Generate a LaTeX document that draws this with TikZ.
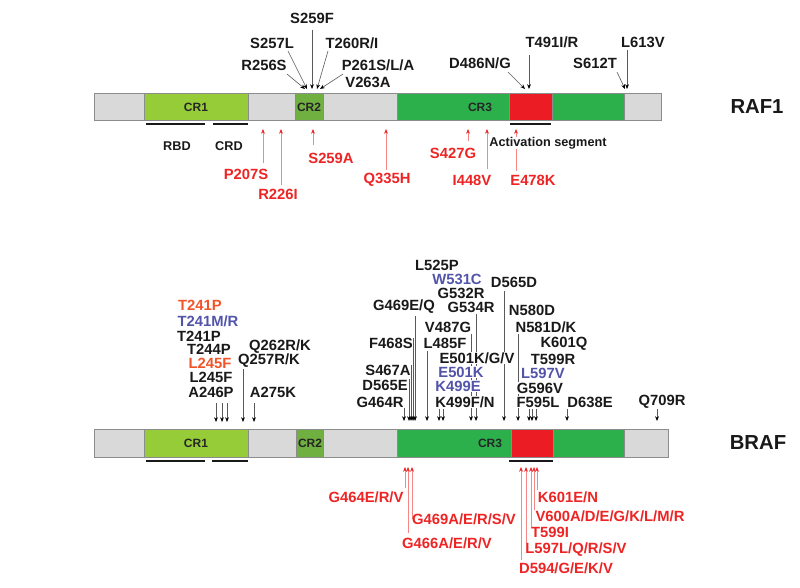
\documentclass[tikz,border=0pt]{standalone}
\usepackage{fontspec}
\setmainfont{Liberation Sans}
\usetikzlibrary{arrows.meta}
\definecolor{bargray}{RGB}{217,217,217}
\definecolor{crone}{RGB}{150,204,56}
\definecolor{crtwo}{RGB}{112,176,64}
\definecolor{crthree}{RGB}{44,176,76}
\definecolor{actred}{RGB}{236,28,36}
\definecolor{mutred}{RGB}{238,36,36}
\definecolor{mutorange}{RGB}{240,84,40}
\definecolor{mutblue}{RGB}{82,84,170}
\newcommand\pin[4]{\coordinate (#1s) at (#3); \coordinate (#1e) at (#4); \draw[#2] (#1s) -- (#1e);}
\tikzset{
  lab/.style={font=\fontsize{14.8}{16}\selectfont\bfseries, inner sep=0.5pt},
  blk/.style={lab, text=black!90},
  redlab/.style={lab, text=mutred},
  orlab/.style={lab, text=mutorange},
  bllab/.style={lab, text=mutblue},
  wf/.style={fill=white},
  small/.style={font=\fontsize{12.7}{14}\selectfont\bfseries, inner sep=0.5pt, text=black!90},
  crlab/.style={font=\fontsize{12}{14}\selectfont\bfseries, inner sep=0pt, text=black!85},
  prot/.style={font=\fontsize{20.3}{22}\selectfont\bfseries, inner sep=0pt, text=black!90},
  seg/.style={draw=black!45, line width=0.6pt},
  uline/.style={line width=2.2pt, black!90},
  blkarr/.style={draw=black!65, line width=0.6pt, -{Stealth[length=4.8pt,width=3.8pt,color=black]}},
  redarr/.style={draw=mutred!55, line width=0.6pt, -{Stealth[length=4.8pt,width=3.8pt,color=mutred]}},
}
\begin{document}
\begin{tikzpicture}[x=1pt,y=-1pt]
\useasboundingbox (0,0) rectangle (800,588);

% ---------------- RAF1 bar ----------------
\fill[bargray] (94,93) rectangle (661,120);
\draw[seg, fill=crone] (144,93) rectangle (248,120);
\draw[seg, fill=crtwo] (295,93) rectangle (323,120);
\draw[seg, fill=crthree] (397,93) rectangle (509,120);
\draw[seg, fill=actred] (509,93) rectangle (552,120);
\draw[seg, fill=crthree] (552,93) rectangle (624,120);
\draw[seg] (94,93) rectangle (661,120);
\node[crlab] (rcr1) at (196,107) {CR1};
\node[crlab] (rcr2) at (309,107) {CR2};
\node[crlab] (rcr3) at (480,107) {CR3};
\node[prot] (raf1) at (757,107) {RAF1};
\draw[uline] (146,124) -- (205,124);
\draw[uline] (213,124) -- (248,124);
\draw[uline] (510,124) -- (551,124);
\node[small] (rbd1) at (177,146) {RBD};
\node[small] (crd1) at (229,146) {CRD};

% RAF1 black mutations
\pin{a1}{blkarr}{312,30}{312,89}
\pin{a2}{blkarr}{288,51}{307,89}
\pin{a3}{blkarr}{328,51}{317,89}
\pin{a4}{blkarr}{287,74}{305,89}
\pin{a5}{blkarr}{343,74}{320,89}
\pin{a6}{blkarr}{529,55}{529,89}
\pin{a7}{blkarr}{508,72}{525,89}
\pin{a8}{blkarr}{627,50}{627,89}
\pin{a9}{blkarr}{617,72}{625,89}
\node[blk] (m1) at (312,18) {S259F};
\node[blk] (m2) at (272,43) {S257L};
\node[blk] (m3) at (352,43) {T260R/I};
\node[blk] (m4) at (264,65) {R256S};
\node[blk] (m5) at (378,65) {P261S/L/A};
\node[blk] (m6) at (368,82) {V263A};
\node[blk] (m7) at (552,42) {T491I/R};
\node[blk] (m8) at (480,63) {D486N/G};
\node[blk] (m9) at (643,42) {L613V};
\node[blk] (m10) at (595,63) {S612T};

% RAF1 red mutations
\pin{r1}{redarr}{263,163}{263,129}
\pin{r2}{redarr}{281,185}{281,129}
\pin{r3}{redarr}{313,145}{313,129}
\pin{r4}{redarr}{386,170}{386,129}
\pin{r5}{redarr}{468,141}{468,129}
\pin{r6}{redarr}{487,169}{487,129}
\pin{r7}{redarr}{516,171}{516,129}
\node[small, wf] (actseg) at (548,143) {Activation segment};
\node[redlab] (n1) at (246,174) {P207S};
\node[redlab] (n2) at (278,194) {R226I};
\node[redlab] (n3) at (331,158) {S259A};
\node[redlab] (n4) at (387,180) {Q335H};
\node[redlab] (n5) at (453,153) {S427G};
\node[redlab] (n6) at (472,180) {I448V};
\node[redlab] (n7) at (533,180) {E478K};

% ---------------- BRAF bar ----------------
\fill[bargray] (94,429) rectangle (668,457);
\draw[seg, fill=crone] (144,429) rectangle (248,457);
\draw[seg, fill=crtwo] (296,429) rectangle (323,457);
\draw[seg, fill=crthree] (397,429) rectangle (511,457);
\draw[seg, fill=actred] (511,429) rectangle (553,457);
\draw[seg, fill=crthree] (553,429) rectangle (624,457);
\draw[seg] (94,429) rectangle (668,457);
\node[crlab] (bcr1) at (196,443) {CR1};
\node[crlab] (bcr2) at (310,443) {CR2};
\node[crlab] (bcr3) at (490,443) {CR3};
\node[prot] (braf) at (758,443) {BRAF};
\draw[uline] (146,461) -- (205,461);
\draw[uline] (212,461) -- (248,461);
\draw[uline] (509,461) -- (553,461);

% BRAF black arrows
\pin{b1}{blkarr}{216,403}{216,422}
\pin{b2}{blkarr}{222,403}{222,422}
\pin{b3}{blkarr}{227,403}{227,422}
\pin{b4}{blkarr}{243,369}{243,422}
\pin{b5}{blkarr}{254,403}{254,422}
\pin{b6}{blkarr}{404,408}{404,421}
\pin{b7}{blkarr}{409,379}{409,421}
\pin{b8}{blkarr}{411,365}{411,421}
\pin{b9}{blkarr}{413,338}{413,421}
\pin{b10}{blkarr}{415,316}{415,421}
\pin{b11}{blkarr}{427,351}{427,421}
\pin{b12}{blkarr}{439,409}{439,421}
\pin{b13}{blkarr}{443,409}{443,421}
\pin{b14}{blkarr}{471,334}{471,421}
\pin{b15}{blkarr}{476,314}{476,421}
\pin{b16}{blkarr}{504,291}{504,421}
\pin{b17}{blkarr}{518,334}{518,421}
\pin{b18}{blkarr}{529,409}{529,421}
\pin{b19}{blkarr}{532,409}{532,421}
\pin{b20}{blkarr}{536,409}{536,421}
\pin{b21}{blkarr}{567,409}{567,421}
\pin{b22}{blkarr}{657,409}{657,421}

% BRAF left labels
\node[orlab] (k1) at (200,305) {T241P};
\node[bllab] (k2) at (208,321) {T241M/R};
\node[blk] (k3) at (199,336) {T241P};
\node[blk] (k4) at (209,349) {T244P};
\node[orlab] (k5) at (210,363) {L245F};
\node[blk] (k6) at (211,377) {L245F};
\node[blk] (k7) at (211,392) {A246P};
\node[blk] (k8) at (280,347) {Q262R/K};
\node[blk] (k9) at (269,361) {Q257R/K};
\node[blk] (k10) at (273,392) {A275K};

% BRAF centre labels
\node[blk] (c1) at (437,265) {L525P};
\node[bllab] (c2) at (457,279) {W531C};
\node[blk] (c3) at (514,282) {D565D};
\node[blk] (c4) at (461,293) {G532R};
\node[blk] (c5) at (404,307) {G469E/Q};
\node[blk] (c6) at (471,307) {G534R};
\node[blk] (c7) at (532,310) {N580D};
\node[blk] (c8) at (546,327) {N581D/K};
\node[blk] (c9) at (448,327) {V487G};
\node[blk] (c10) at (391,343) {F468S};
\node[blk] (c11) at (445,343) {L485F};
\node[blk] (c12) at (564,344) {K601Q};
\node[blk, wf] (c13) at (477,358) {E501K/G/V};
\node[blk] (c14) at (553,359) {T599R};
\node[blk] (c15) at (388,370) {S467A};
\node[bllab, wf] (c16) at (461,372) {E501K};
\node[bllab, wf] (c17) at (543,373) {L597V};
\node[blk] (c18) at (385,385) {D565E};
\node[bllab, wf] (c19) at (458,386) {K499E};
\node[blk, wf] (c20) at (540,388) {G596V};
\node[blk] (c21) at (380,402) {G464R};
\node[blk, wf] (c22) at (465,402) {K499F/N};
\node[blk, wf] (c23) at (538,402) {F595L};
\node[blk] (c24) at (590,402) {D638E};
\node[blk] (c25) at (662,402) {Q709R};

% BRAF red mutations
\pin{s1}{redarr}{405,488}{405,467}
\pin{s2}{redarr}{408,533}{408,467}
\pin{s3}{redarr}{412,519}{412,467}
\pin{s4}{redarr}{521,560}{521,467}
\pin{s5}{redarr}{526,543}{526,467}
\pin{s6}{redarr}{531,527}{531,467}
\pin{s7}{redarr}{534,510}{534,467}
\pin{s8}{redarr}{537,490}{537,467}
\node[redlab] (t1) at (366,497) {G464E/R/V};
\node[redlab] (t2) at (447,543) {G466A/E/R/V};
\node[redlab] (t3) at (464,519) {G469A/E/R/S/V};
\node[redlab] (t4) at (566,568) {D594/G/E/K/V};
\node[redlab] (t5) at (576,550) {L597L/Q/R/S/V};
\node[redlab] (t6) at (550,532) {T599I};
\node[redlab] (t7) at (610,516) {V600A/D/E/G/K/L/M/R};
\node[redlab] (t8) at (568,497) {K601E/N};
\end{tikzpicture}
\end{document}
